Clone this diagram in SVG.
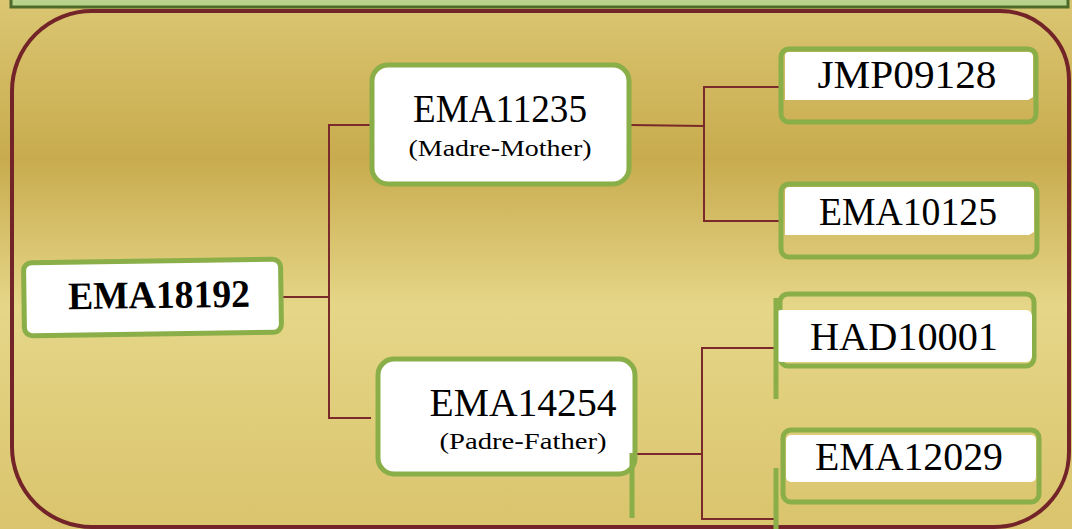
<svg xmlns="http://www.w3.org/2000/svg" width="1072" height="529" viewBox="0 0 1072 529">
  <defs>
    <linearGradient id="bg" x1="0" y1="0" x2="0" y2="1">
      <stop offset="0" stop-color="#dbc672"/>
      <stop offset="0.3" stop-color="#c8ab4e"/>
      <stop offset="0.58" stop-color="#e5d688"/>
      <stop offset="1" stop-color="#dac46d"/>
    </linearGradient>
    <style>
      .frame{fill:#ffffff;stroke:#8aae48;stroke-width:5}
      .open{fill:none;stroke:#8aae48;stroke-width:5}
      .white{fill:#ffffff}
      .stub{stroke:#8aae48;stroke-width:5;fill:none}
      .conn{stroke:#7a2a2a;stroke-width:2;fill:none}
      .t{font-family:"Liberation Serif","Times New Roman",serif;fill:#000;text-anchor:middle}
      .big{font-size:39px}
      .sub{font-size:24px}
    </style>
  </defs>
  <rect x="0" y="0" width="1072" height="529" fill="url(#bg)"/>
  <rect id="header-bar" x="11" y="-6" width="1057" height="13" fill="#b8d28c" stroke="#4d6a2a" stroke-width="3"/>
  <path id="frame-border" d="M92 11 H1000 A69 69 0 0 1 1069 80 V452 A75 75 0 0 1 994 527 H92 A80 80 0 0 1 12 447 V91 A80 80 0 0 1 92 11 Z" fill="none" stroke="#722428" stroke-width="4"/>

  <g id="connectors">
    <polyline class="conn" points="282,297 329,297"/>
    <polyline class="conn" points="371,125 329,125 329,418 371,418"/>
    <polyline class="conn" points="630,125 704,126"/>
    <polyline class="conn" points="781,87 704,87 704,221 781,221"/>
    <polyline class="conn" points="634,454 702,454"/>
    <polyline class="conn" points="775,348 702,348 702,519 775,519"/>
  </g>

  <g id="node-EMA18192" transform="rotate(-0.8 152 297)">
    <rect class="frame" x="24" y="261" width="257" height="73" rx="8"/>
    <text class="t big" x="159" y="308" font-weight="bold" textLength="182" lengthAdjust="spacingAndGlyphs">EMA18192</text>
  </g>

  <g id="node-EMA11235">
    <rect class="frame" x="372" y="65" width="257" height="119" rx="16"/>
    <text class="t big" x="500" y="122" textLength="174" lengthAdjust="spacingAndGlyphs">EMA11235</text>
    <text class="t sub" x="500" y="156" textLength="183" lengthAdjust="spacingAndGlyphs">(Madre-Mother)</text>
  </g>

  <g id="node-EMA14254">
    <rect class="frame" x="378" y="359" width="257" height="115" rx="16"/>
    <line class="stub" x1="632" y1="453" x2="632" y2="518"/>
    <text class="t big" x="523" y="416" textLength="187" lengthAdjust="spacingAndGlyphs">EMA14254</text>
    <text class="t sub" x="523" y="449" textLength="167" lengthAdjust="spacingAndGlyphs">(Padre-Father)</text>
  </g>

  <g id="node-JMP09128">
    <rect class="open" x="781" y="49" width="255" height="73" rx="8"/>
    <path class="white" d="M789 52 H1028 Q1033 52 1033 57 V97 L1028 100 H785 V56 Q785 52 789 52 Z"/>
    <text class="t big" x="907" y="88" textLength="179" lengthAdjust="spacingAndGlyphs">JMP09128</text>
  </g>

  <g id="node-EMA10125">
    <rect class="open" x="781" y="184" width="256" height="73" rx="8"/>
    <path class="white" d="M789 187 H1029 Q1034 187 1034 192 V232 L1029 235 H785 V191 Q785 187 789 187 Z"/>
    <text class="t big" x="908" y="225" textLength="178" lengthAdjust="spacingAndGlyphs">EMA10125</text>
  </g>

  <g id="node-HAD10001">
    <rect class="open" x="780" y="294" width="254" height="72" rx="8"/>
    <rect class="white" x="775" y="310" width="257" height="52" rx="6"/>
    <line class="stub" x1="776" y1="298" x2="776" y2="399"/>
    <text class="t big" x="904" y="350" textLength="188" lengthAdjust="spacingAndGlyphs">HAD10001</text>
  </g>

  <g id="node-EMA12029">
    <rect class="open" x="783" y="430" width="256" height="72" rx="8"/>
    <rect class="white" x="786" y="435" width="250" height="47" rx="5"/>
    <line class="stub" x1="776" y1="468" x2="776" y2="529"/>
    <text class="t big" x="909" y="470" textLength="188" lengthAdjust="spacingAndGlyphs">EMA12029</text>
  </g>
</svg>
